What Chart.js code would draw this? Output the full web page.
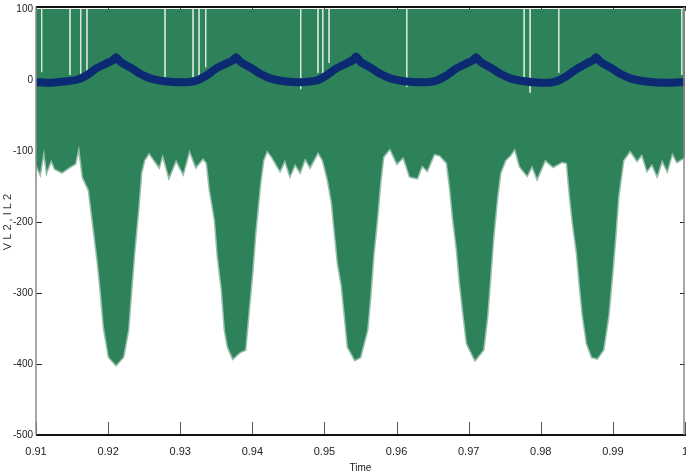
<!DOCTYPE html>
<html>
<head>
<meta charset="utf-8">
<script src="https://cdn.jsdelivr.net/npm/chart.js@4.4.1/dist/chart.umd.min.js"></script>
<style>
  html, body { margin: 0; padding: 0; background: #fff; }
  #wrap { width: 686px; height: 475px; }
</style>
</head>
<body>
<div id="wrap"><canvas id="vlChart" width="686" height="475"></canvas></div>
<script>
// VL2 lower envelope (upper edge sits at 100)
const vTimes = [0.9100, 0.91055, 0.9111, 0.9115, 0.9121, 0.91264, 0.9136, 0.91472, 0.91541, 0.91596,
  0.91652, 0.91735, 0.91804, 0.9186, 0.91902, 0.91943, 0.92013, 0.9211, 0.92207, 0.92276,
  0.92318, 0.92359, 0.92415, 0.92456, 0.92498, 0.92567, 0.92706, 0.92757, 0.92845, 0.92942,
  0.93039, 0.93128, 0.93219, 0.93316, 0.93372, 0.93413, 0.93483, 0.93524, 0.9358, 0.93621,
  0.93663, 0.93732, 0.93829, 0.93899, 0.9394, 0.93996, 0.94038, 0.94107, 0.94149, 0.94204,
  0.94273, 0.94384, 0.94453, 0.94523, 0.94592, 0.94662, 0.94731, 0.948, 0.94911, 0.94981,
  0.9505, 0.95106, 0.95147, 0.95189, 0.95244, 0.95286, 0.95327, 0.95425, 0.95494, 0.95591,
  0.95633, 0.95674, 0.9573, 0.95771, 0.95813, 0.9591, 0.96007, 0.96097, 0.96187, 0.96284,
  0.96353, 0.96423, 0.9652, 0.96603, 0.96701, 0.96742, 0.96784, 0.96839, 0.96881, 0.96923,
  0.96978, 0.97089, 0.972, 0.97255, 0.97297, 0.97339, 0.97394, 0.97436, 0.97505, 0.97574,
  0.97643, 0.97713, 0.9781, 0.9788, 0.97949, 0.9806, 0.98171, 0.98296, 0.98365, 0.98407,
  0.98448, 0.98504, 0.98545, 0.98587, 0.98642, 0.98712, 0.98781, 0.98864, 0.98934, 0.98989,
  0.99031, 0.99072, 0.99142, 0.99239, 0.99336, 0.99405, 0.99475, 0.99544, 0.99613, 0.99683,
  0.99752, 0.99822, 0.99891, 1.0];
const vLow = [-118, -131, -97, -128, -112, -125, -130, -122, -118, -92,
  -137, -155, -211, -258, -300, -348, -390, -401, -390, -352,
  -296, -244, -183, -131, -113, -102, -122, -104, -136, -112,
  -131, -98, -122, -110, -117, -155, -197, -249, -296, -352,
  -376, -392, -383, -380, -333, -272, -216, -145, -113, -99,
  -108, -127, -112, -134, -118, -129, -110, -122, -101, -113,
  -141, -173, -216, -258, -291, -333, -376, -394, -390, -352,
  -305, -249, -193, -145, -108, -96, -117, -108, -136, -138,
  -120, -127, -104, -106, -117, -150, -193, -239, -286, -324,
  -371, -394, -380, -333, -277, -221, -164, -131, -113, -106,
  -96, -122, -134, -120, -138, -112, -122, -115, -117, -164,
  -202, -244, -291, -333, -371, -390, -392, -380, -333, -272,
  -221, -164, -113, -99, -113, -104, -127, -118, -134, -112,
  -127, -102, -115, -108];

// places where VL2 did not reach the top, and how far down the gap goes
const gapTimes = [0.91079, 0.91472, 0.9162, 0.91707, 0.92789, 0.93178, 0.93261, 0.93354,
  0.94671, 0.94911, 0.94977, 0.95064, 0.96142, 0.97769, 0.97852, 0.9825, 0.99956];
const gapLow = [11, 7, 7, 10, 4, 4, 4, 18, -13, 10, 7, 24, -10, 4, -18, 10, 7];

// IL2
const iTimes = [0.9100, 0.91194, 0.91402, 0.91555, 0.91694, 0.91832, 0.91971, 0.92068, 0.9211, 0.92179,
  0.92318, 0.92456, 0.92595, 0.92803, 0.9308, 0.93219, 0.93358, 0.93497, 0.93635, 0.93732,
  0.93774, 0.93843, 0.93982, 0.94121, 0.94259, 0.94468, 0.94662, 0.94884, 0.95022, 0.95161,
  0.953, 0.95397, 0.95438, 0.95508, 0.95646, 0.95785, 0.95924, 0.96132, 0.96409, 0.96548,
  0.96687, 0.96825, 0.96964, 0.97061, 0.97103, 0.97172, 0.97311, 0.9745, 0.97588, 0.97796,
  0.98074, 0.98212, 0.98351, 0.9849, 0.98629, 0.98726, 0.98767, 0.98837, 0.98975, 0.99114,
  0.99253, 0.99461, 0.99738, 1.0];
const iVals = [-3, -4, -2, 0, 6, 16, 23, 28, 32, 25,
  17, 8, 2, -2, -3, -1, 6, 16, 23, 28,
  32, 25, 17, 8, 2, -2, -3, -1, 6, 16,
  23, 28, 33, 25, 17, 8, 2, -2, -3, -1,
  6, 16, 23, 28, 32, 25, 17, 8, 2, -2,
  -4, -2, 5, 15, 23, 28, 32, 25, 17, 8,
  2, -2, -4, -3];

const xTicks = [0.91, 0.92, 0.93, 0.94, 0.95, 0.96, 0.97, 0.98, 0.99, 1];
const yTicks = [100, 0, -100, -200, -300, -400, -500];

const vData = vTimes.map((t, i) => ({ x: t, y: vLow[i] }));
const iData = iTimes.map((t, i) => ({ x: t, y: iVals[i] }));
const gapData = [];
gapTimes.forEach((t, i) => {
  gapData.push({ x: t, y: 100 }, { x: t, y: gapLow[i] }, { x: t, y: null });
});

const narrow = "'Liberation Sans Narrow', 'Arial Narrow', 'Liberation Sans', sans-serif";

// inward tick marks, under the data like the original
const tickMarks = {
  id: 'tickMarks',
  beforeDatasetsDraw(chart) {
    const { ctx, chartArea: a, scales: { x, y } } = chart;
    ctx.save();
    ctx.lineWidth = 1;
    ctx.strokeStyle = '#222';
    yTicks.forEach(v => {
      const py = Math.round(y.getPixelForValue(v)) + 0.5;
      ctx.beginPath();
      ctx.moveTo(a.left, py); ctx.lineTo(a.left + 6, py);
      ctx.moveTo(a.right, py); ctx.lineTo(a.right - 5, py);
      ctx.stroke();
    });
    ctx.strokeStyle = '#555';
    xTicks.forEach(v => {
      const px = Math.round(x.getPixelForValue(v)) + 0.5;
      ctx.beginPath();
      ctx.moveTo(px, a.bottom); ctx.lineTo(px, a.bottom - 13);
      ctx.moveTo(px, a.top - 2); ctx.lineTo(px, a.top + 2);
      ctx.stroke();
    });
    ctx.restore();
  },
  afterDatasetsDraw(chart) {
    const { ctx, chartArea: a } = chart;
    ctx.save();
    ctx.strokeStyle = '#111';
    ctx.lineWidth = 2;
    ctx.beginPath();
    ctx.moveTo(a.left, a.top - 2); ctx.lineTo(a.right + 1, a.top - 2);
    ctx.moveTo(a.left, a.bottom); ctx.lineTo(a.right + 1, a.bottom);
    ctx.stroke();
    ctx.strokeStyle = '#8a8a8a';
    ctx.lineWidth = 1.5;
    ctx.beginPath();
    ctx.moveTo(a.left, a.top - 2); ctx.lineTo(a.left, a.bottom);
    ctx.moveTo(a.right - 1, a.top - 2); ctx.lineTo(a.right - 1, a.bottom);
    ctx.stroke();
    ctx.restore();
  }
};

new Chart(document.getElementById('vlChart'), {
  type: 'line',
  data: {
    datasets: [
      {
        label: 'IL2',
        data: iData,
        borderColor: '#0b2a72',
        borderWidth: 8,
        pointRadius: 0,
        tension: 0.2,
        fill: false,
        order: 1
      },
      {
        label: 'gaps',
        data: gapData,
        borderColor: 'rgba(225,238,230,0.8)',
        borderWidth: 1,
        pointRadius: 0,
        spanGaps: false,
        fill: false,
        order: 2
      },
      {
        label: 'VL2',
        data: vData,
        borderColor: 'rgba(46,130,89,0.5)',
        borderWidth: 3,
        backgroundColor: '#2e8259',
        pointRadius: 0,
        tension: 0,
        fill: { value: 100 },
        order: 3
      }
    ]
  },
  options: {
    responsive: false,
    animation: false,
    layout: { padding: { top: 9, right: 1, left: 0, bottom: 0 } },
    plugins: { legend: { display: false }, tooltip: { enabled: false } },
    scales: {
      x: {
        type: 'linear',
        min: 0.91,
        max: 1,
        grid: { display: false, drawTicks: false },
        border: { display: false },
        ticks: {
          stepSize: 0.01,
          padding: 10,
          maxRotation: 0,
          color: '#222',
          font: { family: narrow, size: 11 },
          callback: v => String(Math.round(v * 100) / 100)
        },
        title: {
          display: true,
          text: 'Time',
          color: '#222',
          font: { family: narrow, size: 10 },
          padding: { top: 0, bottom: 1 }
        },
        afterFit(s) { s.height = 40; s.paddingLeft = 0; s.paddingRight = 0; }
      },
      y: {
        min: -500,
        max: 100,
        grid: { display: false, drawTicks: false },
        border: { display: false },
        ticks: {
          stepSize: 100,
          padding: 3,
          color: '#222',
          font: { family: narrow, size: 10 }
        },
        title: {
          display: true,
          text: 'V L 2 , I L 2',
          color: '#333',
          font: { family: narrow, size: 11 },
          padding: { top: 1, bottom: 0 }
        },
        afterFit(s) { s.width = 36; s.paddingTop = 0; s.paddingBottom = 0; }
      }
    }
  },
  plugins: [tickMarks]
});
</script>
</body>
</html>
